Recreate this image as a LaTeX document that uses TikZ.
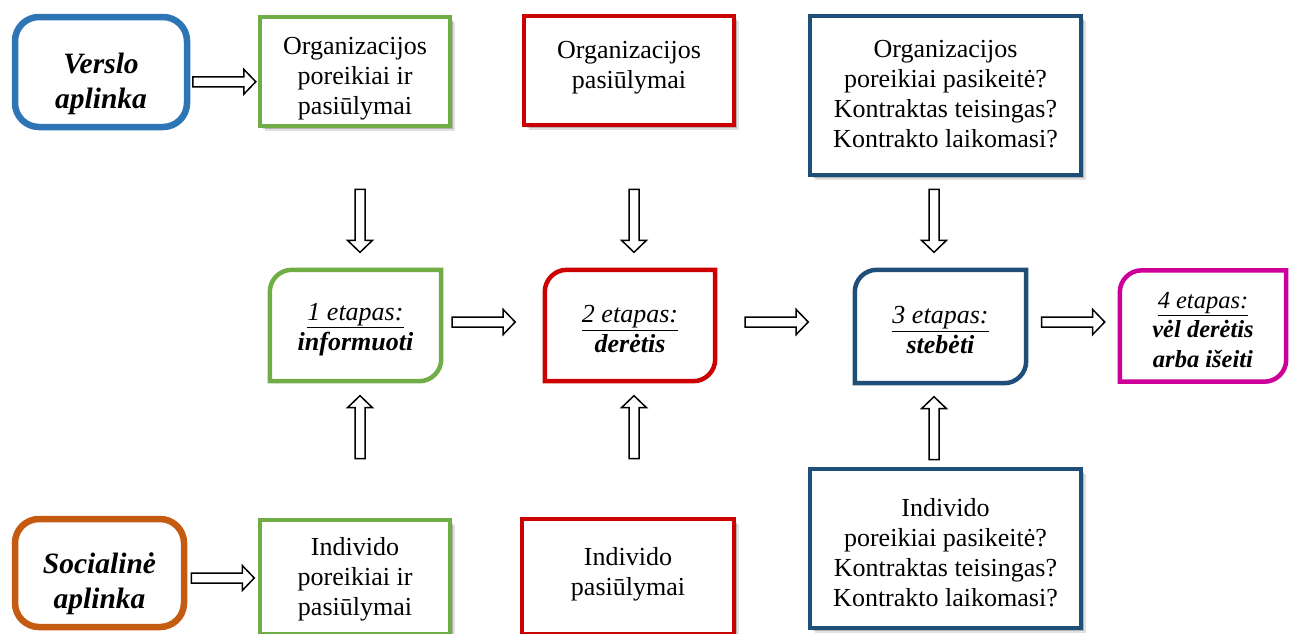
\documentclass[tikz,border=0pt]{standalone}
\usepackage{fontspec}
\setmainfont{Liberation Serif}
\usetikzlibrary{shadows,calc}
\definecolor{envblue}{HTML}{2E75B6}
\definecolor{envorange}{HTML}{C55A11}
\definecolor{bgreen}{HTML}{70AD47}
\definecolor{bred}{HTML}{CC0000}
\definecolor{bdark}{HTML}{1F4E79}
\definecolor{bmag}{HTML}{CC0099}
\tikzset{
  every node/.style={align=center, inner sep=0pt},
  txt/.style={font=\fontsize{26}{30}\selectfont},
  envbox/.style={draw, line width=6.5pt, rounded corners=24pt, fill=white},
  envtext/.style={font=\fontsize{29.5}{35}\selectfont\bfseries\itshape},
  softshadow/.style={drop shadow={shadow xshift=5pt, shadow yshift=-5pt, opacity=0.12, fill=black},
                     drop shadow={shadow xshift=3pt, shadow yshift=-3pt, opacity=0.2, fill=black}},
  infobox/.style={draw, line width=3.5pt, fill=white, softshadow},
  stageline/.style={line width=4.5pt},
  blockarrow/.pic={\draw[line width=1.5pt, fill=white] (-31.5,-5) -- (19.5,-5) -- (19.5,-12.5) -- (31.5,0) -- (19.5,12.5) -- (19.5,5) -- (-31.5,5) -- cycle;}
}
\newcommand\stageframe[2]{\draw[stageline, #2] (#1.west) [rounded corners=22pt] |- (#1.north) [sharp corners] -| (#1.east) [rounded corners=22pt] |- (#1.south) [sharp corners] -| (#1.west) -- cycle;}
\newcommand\stg[2]{\underline{\textit{#1}}\\\textbf{\textit{#2}}}
\begin{document}
\begin{tikzpicture}[x=1pt, y=-1pt]
\path[use as bounding box] (0,0) rectangle (1289,633);

% environment boxes
\node[envbox, draw=envblue, minimum width=172pt, minimum height=110pt] (env1) at (101,72) {};
\node[envtext] (env1t) at ($(env1)+(0,12)$) {Verslo\\aplinka};
\node[envbox, draw=envorange, minimum width=169pt, minimum height=108pt] (env2) at (99.5,573) {};
\node[envtext] (env2t) at ($(env2)+(0,11)$) {Socialinė\\aplinka};

% info boxes
\node[infobox, draw=bgreen, minimum width=190pt, minimum height=109pt] (g1) at (355,71.5) {};
\node[txt] (g1t) at ($(g1)+(0,7)$) {Organizacijos\\poreikiai ir\\pasiūlymai};
\node[infobox, draw=bred, minimum width=210pt, minimum height=109pt] (r1) at (629,70.5) {};
\node[txt] (r1t) at ($(r1)+(0,-3)$) {Organizacijos\\pasiūlymai};
\node[infobox, draw=bdark, minimum width=271pt, minimum height=159pt] (b1) at (945.5,95.5) {};
\node[txt] (b1t) at ($(b1)+(0,-1)$) {Organizacijos\\poreikiai pasikeitė?\\Kontraktas teisingas?\\Kontrakto laikomasi?};
\node[infobox, draw=bgreen, minimum width=190pt, minimum height=114pt] (g2) at (355,577) {};
\node[txt] (g2t) at ($(g2)+(0,2.5)$) {Individo\\poreikiai ir\\pasiūlymai};
\node[infobox, draw=bred, minimum width=212pt, minimum height=115pt] (r2) at (628,576.5) {};
\node[txt] (r2t) at ($(r2)+(0,-2.5)$) {Individo\\pasiūlymai};
\node[infobox, draw=bdark, minimum width=271pt, minimum height=159pt] (b2) at (945.5,548.5) {};
\node[txt] (b2t) at ($(b2)+(0,4.5)$) {Individo\\poreikiai pasikeitė?\\Kontraktas teisingas?\\Kontrakto laikomasi?};

% stage boxes
\node[minimum width=171pt, minimum height=111pt] (s1) at (355.5,325.5) {};
\node[txt] (s1t) at ($(s1)+(0,4)$) {\stg{1 etapas:}{informuoti}};
\node[minimum width=170pt, minimum height=111pt] (s2) at (630,325.5) {};
\node[txt] (s2t) at ($(s2)+(0,4)$) {\stg{2 etapas:}{derėtis}};
\node[minimum width=171pt, minimum height=113pt] (s3) at (940.5,326.5) {};
\node[txt] (s3t) at ($(s3)+(0,4)$) {\stg{3 etapas:}{stebėti}};
\node[minimum width=166pt, minimum height=111pt] (s4) at (1203,326) {};
\node[font=\fontsize{24.5}{29.5}\selectfont] (s4t) at ($(s4)+(0,4)$) {\underline{\textit{4 etapas:}}\\\textbf{\textit{vėl derėtis}}\\\textbf{\textit{arba išeiti}}};
\stageframe{s1}{bgreen}
\stageframe{s2}{bred}
\stageframe{s3}{bdark}
\stageframe{s4}{bmag}

% arrows
\pic at ($(env1.east)!0.5!(g1.west)+(0,10)$) {blockarrow};
\pic at ($(env2.east)!0.5!(g2.west)+(0,3)$) {blockarrow};
\pic[rotate=-90] at ($(s1.north)+(4.5,-49)$) {blockarrow};
\pic[rotate=-90] at ($(s2.north)+(4,-49)$) {blockarrow};
\pic[rotate=-90] at ($(s3.north)+(-6.5,-49)$) {blockarrow};
\pic[rotate=90] at ($(s1.south)+(4.5,46)$) {blockarrow};
\pic[rotate=90] at ($(s2.south)+(4,46)$) {blockarrow};
\pic[rotate=90] at ($(s3.south)+(-6.5,45)$) {blockarrow};
\pic at ($(s1.east)+(42.5,-3.5)$) {blockarrow};
\pic at ($(s2.east)+(61.5,-3.5)$) {blockarrow};
\pic at ($(s3.east)+(47,-4.5)$) {blockarrow};
\end{tikzpicture}
\end{document}
